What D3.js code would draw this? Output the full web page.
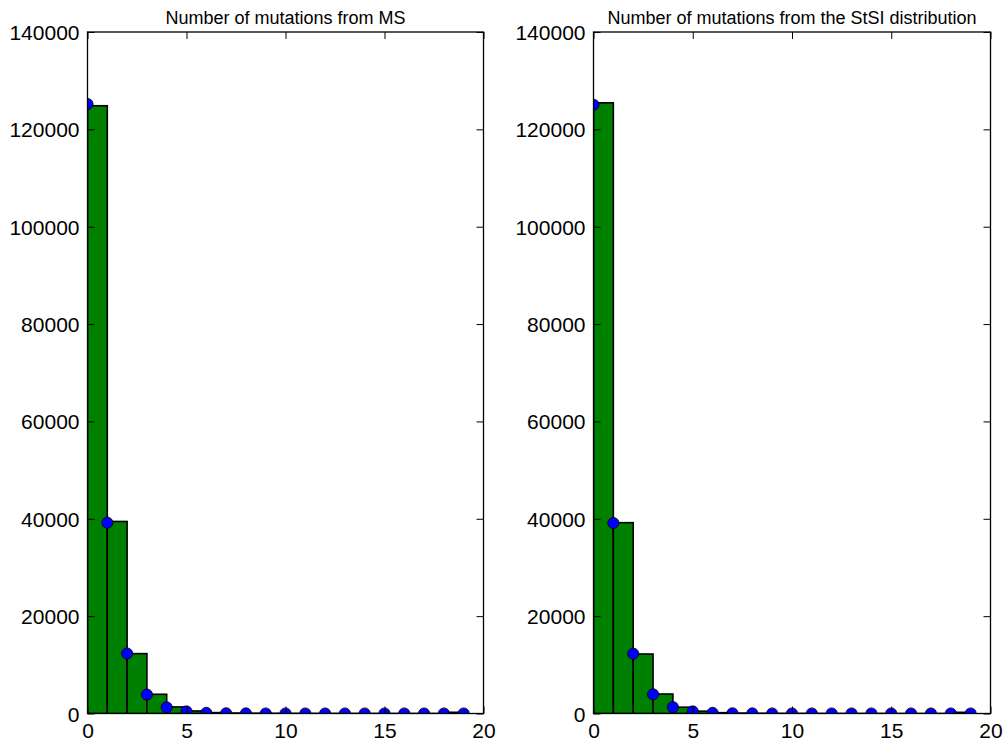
<!DOCTYPE html>
<html>
<head>
<meta charset="utf-8">
<script src="https://cdn.jsdelivr.net/npm/d3@7"></script>
<style>
  html, body { margin: 0; padding: 0; background: #fff; }
  svg { display: block; }
  text { font-family: "Liberation Sans", Arial, sans-serif; fill: #000; }
</style>
</head>
<body>
<svg id="chart" width="1007" height="744"></svg>
<script>
// ---- data ----
const binEdges = d3.range(0, 20);            // 0..19 -> 19 bins of width 1
const dotPositions = d3.range(0, 20);        // 0..19
const xTickLabels = [0, 5, 10, 15, 20];
const yTickLabels = [0, 20000, 40000, 60000, 80000, 100000, 120000, 140000];

const titleLeft = "Number of mutations from MS";
const titleRight = "Number of mutations from the StSI distribution";

const countsLeft  = [124850, 39450, 12300, 3950, 1350, 520, 180, 100, 60, 40, 30, 25, 20, 15, 12, 10, 8, 6, 250];
const dotsLeft    = [125200, 39200, 12320, 3880, 1250, 420, 130, 40, 13, 4, 1, 0, 0, 0, 0, 0, 0, 0, 0, 0];
const countsRight = [125450, 39200, 12220, 4000, 1300, 480, 170, 90, 55, 35, 25, 20, 15, 12, 10, 8, 6, 5, 240];
const dotsRight   = [125050, 39130, 12290, 3940, 1300, 420, 130, 40, 13, 4, 1, 0, 0, 0, 0, 0, 0, 0, 0, 0];

const panels = [
  { title: titleLeft,  counts: countsLeft,  dots: dotsLeft,  x0: 87.5,  x1: 483.5 },
  { title: titleRight, counts: countsRight, dots: dotsRight, x0: 593.5, x1: 990.5 }
];

const svg = d3.select("#chart");
const yTop = 32, yBottom = 713.5;
const tickLen = 7;

panels.forEach((p, i) => {
  const x = d3.scaleLinear().domain([0, 20]).range([p.x0, p.x1]);
  const y = d3.scaleLinear().domain([0, 140000]).range([yBottom, yTop]);
  const g = svg.append("g");

  const clipId = "clip" + i;
  svg.append("defs").append("clipPath").attr("id", clipId)
    .append("rect").attr("x", p.x0).attr("y", yTop).attr("width", p.x1 - p.x0).attr("height", yBottom - yTop);

  const plot = g.append("g").attr("clip-path", `url(#${clipId})`);

  // bars
  const bins = binEdges.slice(0, -1).map((e, k) => ({ x0: e, x1: binEdges[k + 1], v: p.counts[k] }));
  plot.selectAll("rect.bar").data(bins).join("rect")
    .attr("class", "bar")
    .attr("x", d => x(d.x0))
    .attr("width", d => x(d.x1) - x(d.x0))
    .attr("y", d => y(d.v))
    .attr("height", d => y(0) - y(d.v))
    .attr("fill", "#008000")
    .attr("stroke", "#000")
    .attr("stroke-width", 1.6);

  // dots
  plot.selectAll("circle").data(dotPositions.map((pos, k) => ({ pos, v: p.dots[k] }))).join("circle")
    .attr("cx", d => x(d.pos))
    .attr("cy", d => y(d.v))
    .attr("r", 5.6)
    .attr("fill", "#0000ff")
    .attr("stroke", "#000")
    .attr("stroke-width", 0.8);

  // axes with inward ticks (all four sides)
  const fontSize = 21;
  const bottom = d3.axisBottom(x).tickValues(xTickLabels).tickSizeInner(-tickLen).tickSizeOuter(0).tickPadding(9.5).tickFormat(d3.format("d"));
  const top = d3.axisTop(x).tickValues(xTickLabels).tickSizeInner(-tickLen).tickSizeOuter(0).tickFormat("");
  const left = d3.axisLeft(y).tickValues(yTickLabels).tickSizeInner(-tickLen).tickSizeOuter(0).tickPadding(8).tickFormat(d3.format("d"));
  const right = d3.axisRight(y).tickValues(yTickLabels).tickSizeInner(-tickLen).tickSizeOuter(0).tickFormat("");

  const gb = g.append("g").attr("transform", `translate(0,${yBottom})`).call(bottom);
  const gt = g.append("g").attr("transform", `translate(0,${yTop})`).call(top);
  const gl = g.append("g").attr("transform", `translate(${p.x0},0)`).call(left);
  const gr = g.append("g").attr("transform", `translate(${p.x1},0)`).call(right);

  [gb, gt, gl, gr].forEach(a => {
    a.selectAll("path.domain").remove();
    a.selectAll(".tick line").attr("stroke", "#000").attr("stroke-width", 1);
    a.selectAll("text").style("font-family", '"Liberation Sans", Arial, sans-serif').style("font-size", fontSize + "px").attr("fill", "#000");
  });
  gl.selectAll("text").attr("dy", "0.36em");
  gb.selectAll("text").attr("dy", "0.71em");

  // frame
  g.append("rect")
    .attr("x", p.x0).attr("y", yTop)
    .attr("width", p.x1 - p.x0).attr("height", yBottom - yTop)
    .attr("fill", "none").attr("stroke", "#000").attr("stroke-width", 1.3);

  // title
  g.append("text")
    .attr("x", (p.x0 + p.x1) / 2)
    .attr("y", 24)
    .attr("text-anchor", "middle")
    .style("font-size", "18px")
    .text(p.title);
});
</script>
</body>
</html>
